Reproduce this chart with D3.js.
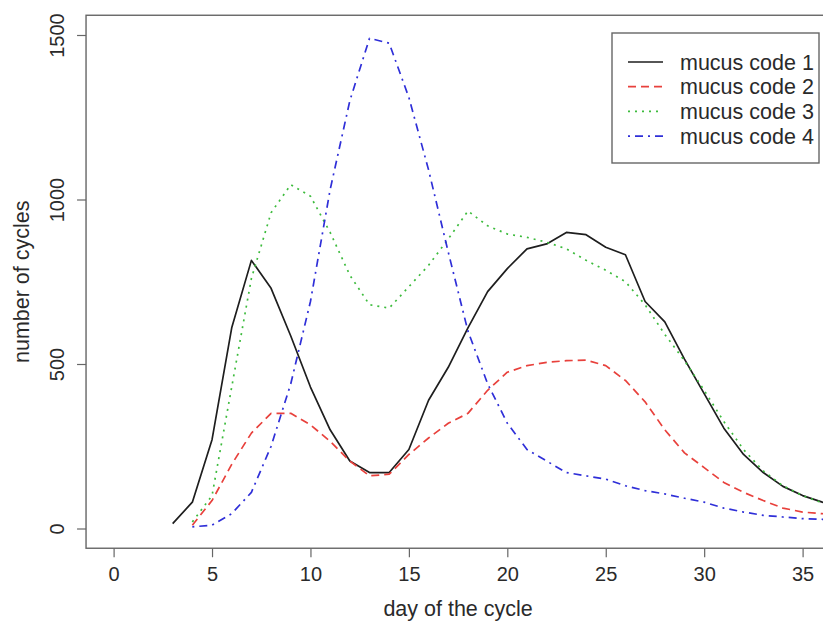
<!DOCTYPE html>
<html>
<head>
<meta charset="utf-8">
<script src="https://cdn.jsdelivr.net/npm/d3@7"></script>
<style>
  body { margin: 0; background: #fff; }
  text { font-family: "Liberation Sans", Arial, sans-serif; fill: #2a2a2a; }
</style>
</head>
<body>
<div id="chart"></div>
<script>
// Data
let days = [3, 4, 5, 6, 7, 8, 9, 10, 11, 12, 13, 14, 15, 16, 17, 18, 19, 20,
  21, 22, 23, 24, 25, 26, 27, 28, 29, 30, 31, 32, 33, 34, 35, 36, 37];
let code1 = [15, 80, 270, 610, 815, 730, 585, 430, 300, 205, 170, 170, 240, 390, 490, 610, 720, 790,
  850, 865, 900, 893, 855, 832, 690, 628, 515, 410, 305, 225, 170, 128, 100, 80, 62];
let code2 = [null, 10, 85, 195, 290, 350, 350, 315, 265, 205, 160, 165, 225, 275, 320, 350, 420, 475,
  495, 505, 510, 512, 495, 450, 385, 300, 230, 185, 140, 110, 85, 62, 50, 45, 40];
let code3 = [null, 20, 100, 430, 760, 960, 1045, 1010, 900, 770, 680, 670, 735, 800, 880, 965, 920, 895,
  885, 870, 850, 815, 785, 750, 680, 590, 510, 420, 325, 240, 175, 130, 100, 78, 58];
let code4 = [null, 5, 10, 45, 110, 250, 440, 690, 1030, 1300, 1490, 1475, 1310, 1090, 840, 600, 440, 320,
  240, 205, 170, 160, 150, 130, 115, 105, 92, 80, 62, 50, 40, 35, 30, 28, 25];

let seriesNames = ["mucus code 1", "mucus code 2", "mucus code 3", "mucus code 4"];
let xTicks = [0, 5, 10, 15, 20, 25, 30, 35];
let yTicks = [0, 500, 1000, 1500];

let svgWidth = 823;
let svgHeight = 625;

let styles = [
  { color: "#1e1e1e", dash: null, width: 1.7 },
  { color: "#e8413c", dash: "8,5", width: 1.7 },
  { color: "#3dbb3d", dash: "2,5", width: 1.7 },
  { color: "#2f2fd8", dash: "2,5,8,5", width: 1.7 }
];

let svg = d3.select("#chart")
  .append("svg")
  .attr("width", svgWidth)
  .attr("height", svgHeight);

svg.append("rect").attr("width", svgWidth).attr("height", svgHeight).attr("fill", "#fff");

// R style: xlim 0..35, ylim 0..1500 with 4% padding
let x = d3.scaleLinear().domain([0, 35]).range([113.6, 802.6]);
let y = d3.scaleLinear().domain([0, 1500]).range([528.5, 35]);

let boxLeft = x(-1.4), boxRight = x(36.4);
let boxTop = y(1560), boxBottom = y(-60);

svg.append("clipPath").attr("id", "plotClip")
  .append("rect")
  .attr("x", boxLeft).attr("y", boxTop)
  .attr("width", boxRight - boxLeft).attr("height", boxBottom - boxTop);

let lineGroup = svg.append("g").attr("clip-path", "url(#plotClip)");

[code1, code2, code3, code4].forEach(function(vals, i) {
  let points = days.map((d, j) => ({ day: d, value: vals[j] }));
  let drawLine = d3.line()
    .defined(p => p.value !== null)
    .x(p => x(p.day))
    .y(p => y(p.value));
  lineGroup.append("path")
    .attr("d", drawLine(points))
    .attr("fill", "none")
    .attr("stroke", styles[i].color)
    .attr("stroke-width", styles[i].width)
    .attr("stroke-dasharray", styles[i].dash)
    .attr("stroke-linejoin", "round");
});

// plot box
svg.append("rect")
  .attr("x", boxLeft).attr("y", boxTop)
  .attr("width", boxRight - boxLeft).attr("height", boxBottom - boxTop)
  .attr("fill", "none")
  .attr("stroke", "#666")
  .attr("stroke-width", 1.4);

// axes
let bottomAxis = d3.axisBottom(x).tickValues(xTicks).tickSize(9).tickPadding(10);
let leftAxis = d3.axisLeft(y).tickValues(yTicks).tickSize(9).tickFormat(d3.format("d"));

let xAxisG = svg.append("g")
  .attr("transform", `translate(0, ${boxBottom})`)
  .call(bottomAxis);
xAxisG.select(".domain").remove();
xAxisG.selectAll("line").attr("stroke", "#666").attr("stroke-width", 1.2);
xAxisG.selectAll("text")
  .style("font-size", "20px")
  .attr("fill", "#2a2a2a");

let yAxisG = svg.append("g")
  .attr("transform", `translate(${boxLeft}, 0)`)
  .call(leftAxis);
yAxisG.select(".domain").remove();
yAxisG.selectAll("line").attr("stroke", "#666").attr("stroke-width", 1.2);
yAxisG.selectAll("text")
  .attr("x", null)
  .attr("dy", null)
  .attr("text-anchor", "middle")
  .attr("transform", "translate(-22, 0) rotate(-90)")
  .style("font-size", "20px")
  .attr("fill", "#2a2a2a");

// axis titles
svg.append("text")
  .attr("x", (boxLeft + boxRight) / 2)
  .attr("y", 616)
  .attr("text-anchor", "middle")
  .style("font-size", "21.5px")
  .text("day of the cycle");

svg.append("text")
  .attr("transform", `translate(29, ${(boxTop + boxBottom) / 2}) rotate(-90)`)
  .attr("text-anchor", "middle")
  .style("font-size", "21.5px")
  .text("number of cycles");

// legend
let legend = svg.append("g");
legend.append("rect")
  .attr("x", 612).attr("y", 33)
  .attr("width", 207).attr("height", 130)
  .attr("fill", "#fff")
  .attr("stroke", "#666")
  .attr("stroke-width", 1.4);

seriesNames.forEach(function(name, i) {
  let rowY = 62 + i * 24.7;
  legend.append("line")
    .attr("x1", 628).attr("x2", 663)
    .attr("y1", rowY).attr("y2", rowY)
    .attr("stroke", styles[i].color)
    .attr("stroke-width", styles[i].width)
    .attr("stroke-dasharray", styles[i].dash);
  legend.append("text")
    .attr("x", 680)
    .attr("y", rowY)
    .attr("dy", "0.36em")
    .style("font-size", "21.5px")
    .text(name);
});
</script>
</body>
</html>
